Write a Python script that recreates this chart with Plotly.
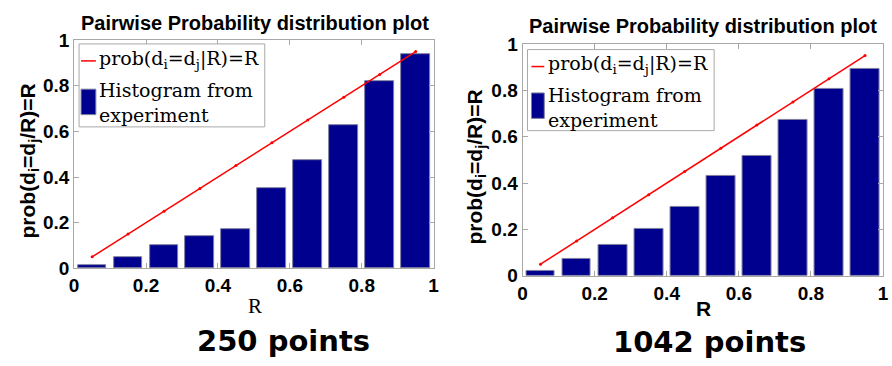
import plotly.graph_objects as go

W, H = 892, 366

# ---- data ----
bin_centers = [0.05, 0.15, 0.25, 0.35, 0.45, 0.55, 0.65, 0.75, 0.85, 0.95]
hist_250 = [0.015, 0.048, 0.100, 0.139, 0.172, 0.351, 0.474, 0.629, 0.821, 0.937]
hist_1042 = [0.023, 0.072, 0.134, 0.204, 0.297, 0.431, 0.519, 0.672, 0.805, 0.891]
ideal = [0.05, 0.15, 0.25, 0.35, 0.45, 0.55, 0.65, 0.75, 0.85, 0.95]
tick_vals = [0, 0.2, 0.4, 0.6, 0.8, 1]
tick_text = ["0", "0.2", "0.4", "0.6", "0.8", "1"]
panel_labels = ["250 points", "1042 points"]
title_text = "Pairwise Probability distribution plot"

BAR = "#00008F"
RED = "#FF0000"
FRAME = "#a8a8a8"

def px(x):
    return x / W

def py(y):
    return 1 - y / H

fig = go.Figure()

panels = [
    dict(hist=hist_250, x0=70, x1=434, y0=32, y1=274, xa="x", ya="y"),
    dict(hist=hist_1042, x0=524, x1=889, y0=36, y1=282, xa="x2", ya="y2"),
]

for p in panels:
    fig.add_trace(go.Bar(x=bin_centers, y=p["hist"], width=0.08,
                         marker=dict(color=BAR, line=dict(color="#8080a0", width=1)),
                         xaxis=p["xa"], yaxis=p["ya"], showlegend=False))
    fig.add_trace(go.Scatter(x=bin_centers, y=ideal, mode="lines+markers",
                             line=dict(color=RED, width=1.5),
                             marker=dict(color=RED, size=3),
                             xaxis=p["xa"], yaxis=p["ya"], showlegend=False))

axis_common = dict(range=[0, 1], tickvals=tick_vals, ticktext=tick_text,
                   ticks="inside", ticklen=5, tickcolor=FRAME, showline=True,
                   linecolor=FRAME, linewidth=1, mirror="allticks", showgrid=False,
                   zeroline=False, fixedrange=True,
                   tickfont=dict(family="Liberation Sans", size=19, color="black",
                                 weight="bold"))

layout = dict(width=W, height=H, margin=dict(l=0, r=0, t=0, b=0),
              paper_bgcolor="white", plot_bgcolor="white", bargap=0)
for i, p in enumerate(panels):
    sx = "" if i == 0 else "2"
    layout["xaxis" + sx] = dict(axis_common, domain=[px(p["x0"]), px(p["x1"])],
                                anchor="y" + sx)
    layout["yaxis" + sx] = dict(axis_common, domain=[py(p["y1"]), py(p["y0"])],
                                anchor="x" + sx)
fig.update_layout(**layout)

ann = []
shapes = []
title_font = dict(family="Liberation Sans", size=20, color="black", weight="bold")

# titles
ann.append(dict(x=px(253), y=py(0), yanchor="top", text=title_text, font=title_font))
ann.append(dict(x=px(707), y=py(3), yanchor="top", text=title_text, font=title_font))

# y-axis labels
ylab = "prob(d<sub>i</sub>=d<sub>j</sub>/R)=R"
ylab_font = dict(family="Liberation Sans", size=21, color="black", weight="bold")
ann.append(dict(x=px(24), y=py(160), text=ylab, textangle=-90, font=ylab_font))
ann.append(dict(x=px(477), y=py(167), text=ylab, textangle=-90, font=ylab_font))

# x-axis labels
ann.append(dict(x=px(253), y=py(314), text="R",
                font=dict(family="Liberation Serif", size=21, color="black")))
ann.append(dict(x=px(707), y=py(317), text="R",
                font=dict(family="Liberation Sans", size=21, color="black", weight="bold")))

# panel captions
cap_font = dict(family="DejaVu Sans", size=29, color="black", weight="bold")
ann.append(dict(x=px(282), y=py(351), text=panel_labels[0], font=cap_font))
ann.append(dict(x=px(713), y=py(352), text=panel_labels[1], font=cap_font))

# legends (drawn manually to mimic MATLAB style)
leg_font = dict(family="DejaVu Serif", size=19, color="black")
legs = [
    dict(bx0=75, bx1=263, by0=36, by1=124, sx0=77, sx1=92, ly=54, tx=93,
         t1=52, t2=98, sy0=84, sy1=111),
    dict(bx0=529, bx1=718, by0=42, by1=128, sx0=533, sx1=546, ly=60, tx=548,
         t1=58, t2=103, sy0=88, sy1=115),
]
for L in legs:
    shapes.append(dict(type="rect", xref="paper", yref="paper",
                       x0=px(L["bx0"]), x1=px(L["bx1"]), y0=py(L["by1"]), y1=py(L["by0"]),
                       line=dict(color=FRAME, width=1), fillcolor="white"))
    shapes.append(dict(type="line", xref="paper", yref="paper",
                       x0=px(L["sx0"]), x1=px(L["sx1"]), y0=py(L["ly"]), y1=py(L["ly"]),
                       line=dict(color=RED, width=1.5)))
    shapes.append(dict(type="rect", xref="paper", yref="paper",
                       x0=px(L["sx0"]), x1=px(L["sx1"]), y0=py(L["sy1"]), y1=py(L["sy0"]),
                       line=dict(color="#8080a0", width=1), fillcolor=BAR))
    ann.append(dict(x=px(L["tx"]), y=py(L["t1"]), xanchor="left",
                    text="prob(d<sub>i</sub>=d<sub>j</sub>|R)=R", font=leg_font))
    ann.append(dict(x=px(L["tx"]), y=py(L["t2"]), xanchor="left", align="left",
                    text="Histogram from<br>experiment", font=leg_font))

for a in ann:
    a.setdefault("xref", "paper")
    a.setdefault("yref", "paper")
    a.setdefault("showarrow", False)
    a.setdefault("xanchor", "center")
    a.setdefault("yanchor", "middle")

fig.update_layout(annotations=ann, shapes=shapes)
fig.write_html("out.html")
